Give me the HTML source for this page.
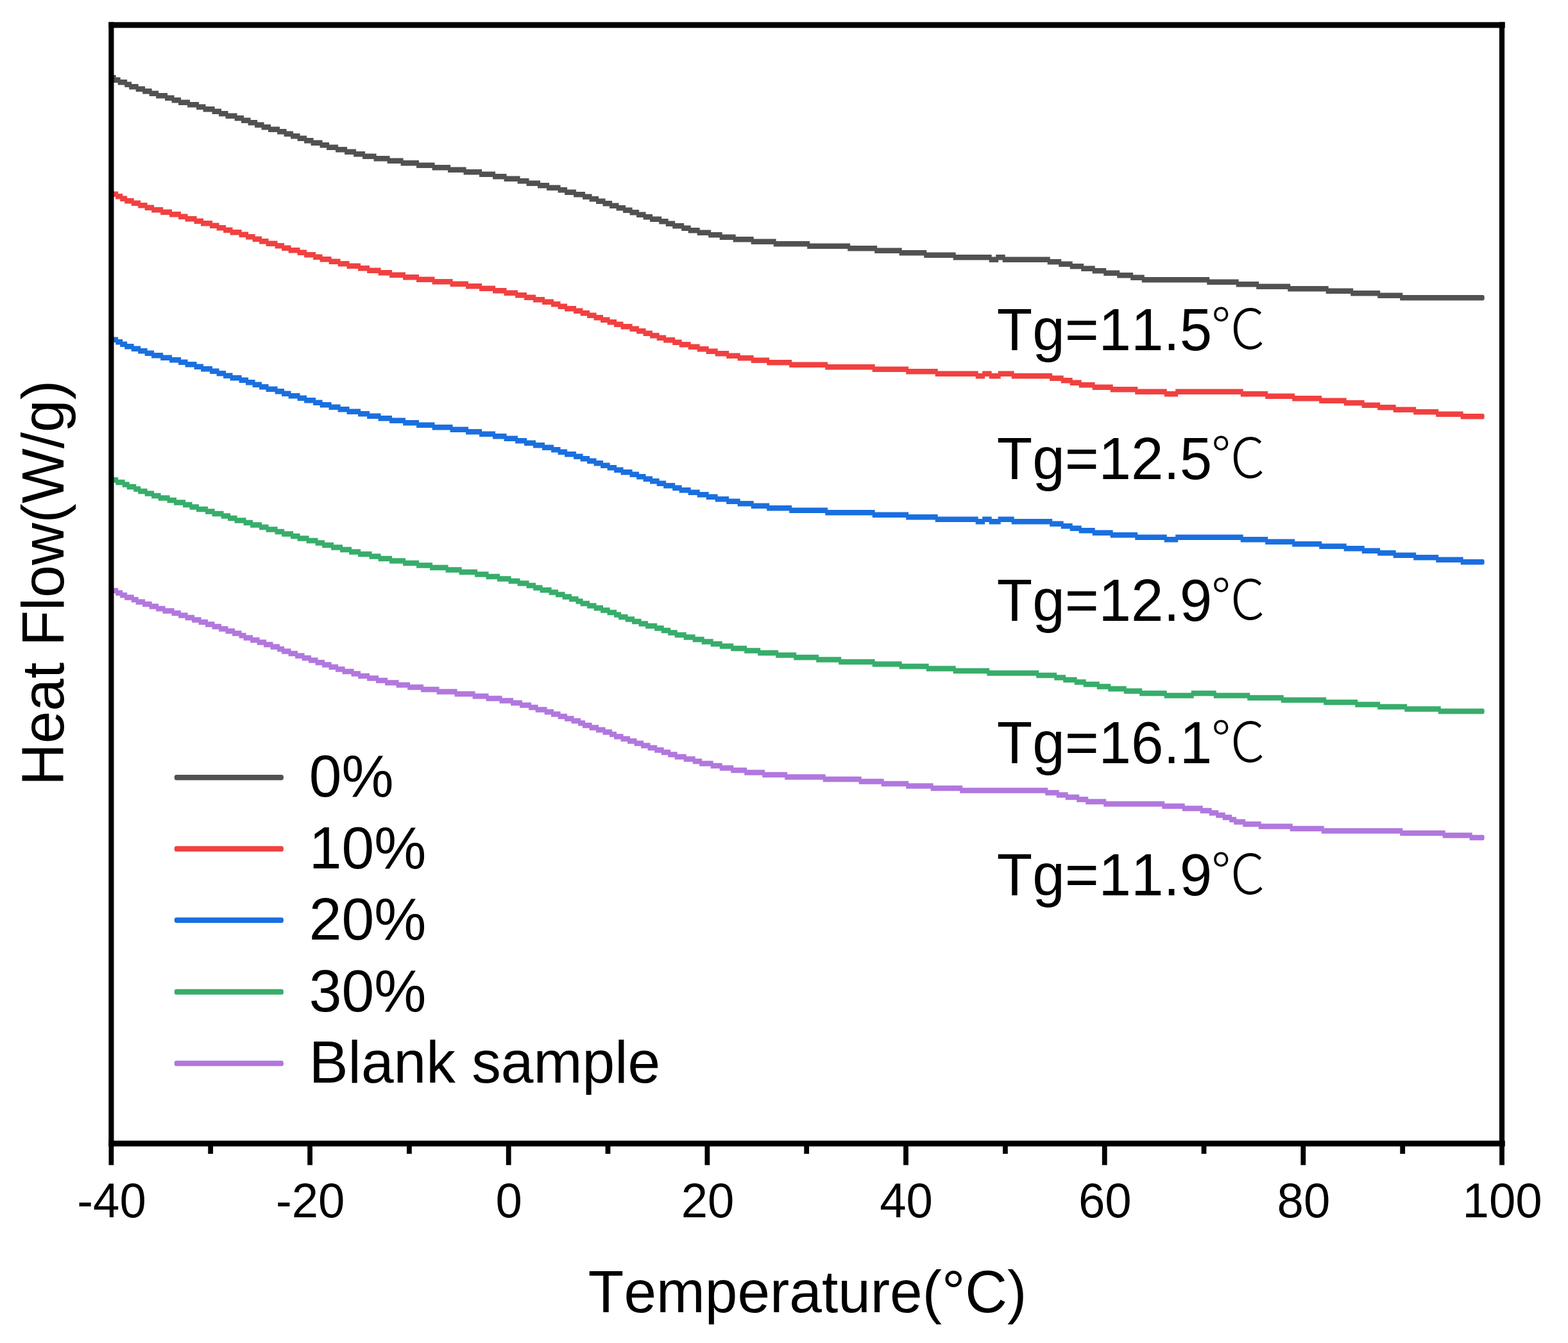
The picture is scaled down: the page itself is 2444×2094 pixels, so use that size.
<!DOCTYPE html>
<html lang="en"><head><meta charset="utf-8"><title>Heat Flow vs Temperature</title>
<style>
html,body{margin:0;padding:0;background:#fff;}
body{width:2444px;height:2094px;overflow:hidden;}
svg{display:block;}
text{font-family:"Liberation Sans",sans-serif;fill:#000;font-kerning:none;}
.deg{font-family:"Noto Sans CJK SC","Noto Serif CJK SC",sans-serif;font-weight:300;}
</style></head><body>
<svg width="2444" height="2094" viewBox="0 0 2444 2094">
<rect x="0" y="0" width="2444" height="2094" fill="#ffffff"/>
<g stroke="none">
<path fill="#515151" d="M173.4 116.9H180.7V125.4H173.4ZM176.7 120.4H187.7V128.9H176.7ZM183.7 123.9H198.2V132.4H183.7ZM194.2 127.4H205.2V135.9H194.2ZM201.2 130.9H215.7V139.4H201.2ZM211.7 134.4H226.2V142.9H211.7ZM222.2 137.9H236.7V146.4H222.2ZM232.7 141.4H247.2V149.9H232.7ZM243.2 144.9H261.1V153.4H243.2ZM257.1 148.4H271.6V156.9H257.1ZM267.6 151.9H282.1V160.4H267.6ZM278.1 155.4H296.1V163.9H278.1ZM292.1 158.9H310.1V167.4H292.1ZM306.1 162.4H320.6V170.9H306.1ZM316.6 165.9H334.6V174.4H316.6ZM330.6 169.4H345.1V177.9H330.6ZM341.1 172.9H355.6V181.4H341.1ZM351.6 176.4H369.6V184.9H351.6ZM365.6 179.9H380.1V188.4H365.6ZM376.1 183.4H390.6V191.9H376.1ZM386.6 186.9H401.1V195.4H386.6ZM397.1 190.4H411.6V198.9H397.1ZM407.6 193.9H422.1V202.4H407.6ZM418.1 197.4H436.1V205.9H418.1ZM432.1 200.9H446.6V209.4H432.1ZM442.6 204.4H457.1V212.9H442.6ZM453.1 207.9H467.6V216.4H453.1ZM463.6 211.4H478.1V219.9H463.6ZM474.1 214.9H488.6V223.4H474.1ZM484.6 218.4H502.6V226.9H484.6ZM498.6 221.9H513.1V230.4H498.6ZM509.1 225.4H527.1V233.9H509.1ZM523.1 228.9H541.1V237.4H523.1ZM537.1 232.4H555.1V240.9H537.1ZM551.1 235.9H569.1V244.4H551.1ZM565.1 239.4H586.6V247.9H565.1ZM582.6 242.9H607.6V251.4H582.6ZM603.6 246.4H628.6V254.9H603.6ZM624.6 249.9H653.1V258.4H624.6ZM649.1 253.4H677.6V261.9H649.1ZM673.6 256.9H702.1V265.4H673.6ZM698.1 260.4H726.6V268.9H698.1ZM722.6 263.9H751.1V272.4H722.6ZM747.1 267.4H772.1V275.9H747.1ZM768.1 270.9H789.6V279.4H768.1ZM785.6 274.4H810.6V282.9H785.6ZM806.6 277.9H824.6V286.4H806.6ZM820.6 281.4H842.1V289.9H820.6ZM838.1 284.9H856.1V293.4H838.1ZM852.1 288.4H873.6V296.9H852.1ZM869.6 291.9H884.1V300.4H869.6ZM880.1 295.4H898.1V303.9H880.1ZM894.1 298.9H912.1V307.4H894.1ZM908.1 302.4H922.6V310.9H908.1ZM918.6 305.9H933.1V314.4H918.6ZM929.1 309.4H943.6V317.9H929.1ZM939.6 312.9H954.1V321.4H939.6ZM950.1 316.4H964.6V324.9H950.1ZM960.6 319.9H975.1V328.4H960.6ZM971.1 323.4H985.6V331.9H971.1ZM981.6 326.9H996.1V335.4H981.6ZM992.1 330.4H1006.6V338.9H992.1ZM1002.6 333.9H1017.1V342.4H1002.6ZM1013.1 337.4H1031.2V345.9H1013.1ZM1027.2 340.9H1041.7V349.4H1027.2ZM1037.7 344.4H1052.2V352.9H1037.7ZM1048.2 347.9H1066.2V356.4H1048.2ZM1062.2 351.4H1076.7V359.9H1062.2ZM1072.7 354.9H1090.7V363.4H1072.7ZM1086.7 358.4H1108.2V366.9H1086.7ZM1104.2 361.9H1125.7V370.4H1104.2ZM1121.7 365.4H1146.7V373.9H1121.7ZM1142.7 368.9H1174.7V377.4H1142.7ZM1170.7 372.4H1209.7V380.9H1170.7ZM1205.7 375.9H1262.2V384.4H1205.7ZM1258.2 379.4H1325.2V387.9H1258.2ZM1321.2 382.9H1367.2V391.4H1321.2ZM1363.2 386.4H1405.7V394.9H1363.2ZM1401.7 389.9H1444.2V398.4H1401.7ZM1440.2 393.4H1489.7V401.9H1440.2ZM1485.7 396.9H1545.7V405.4H1485.7ZM1541.7 400.4H1556.2V408.9H1541.7ZM1552.2 396.9H1566.7V405.4H1552.2ZM1562.7 400.4H1636.7V408.9H1562.7ZM1632.7 403.9H1654.2V412.4H1632.7ZM1650.2 407.4H1671.7V415.9H1650.2ZM1667.7 410.9H1689.2V419.4H1667.7ZM1685.2 414.4H1706.7V422.9H1685.2ZM1702.7 417.9H1724.2V426.4H1702.7ZM1720.2 421.4H1745.2V429.9H1720.2ZM1741.2 424.9H1766.2V433.4H1741.2ZM1762.2 428.4H1783.7V436.9H1762.2ZM1779.7 431.9H1885.2V440.4H1779.7ZM1881.2 435.4H1930.7V443.9H1881.2ZM1926.7 438.9H1962.2V447.4H1926.7ZM1958.2 442.4H2011.2V450.9H1958.2ZM2007.2 445.9H2070.7V454.4H2007.2ZM2066.7 449.4H2109.2V457.9H2066.7ZM2105.2 452.9H2151.2V461.4H2105.2ZM2147.2 456.4H2186.2V464.9H2147.2ZM2182.2 459.9H2310.0V468.4H2182.2ZM2310.0 459.9h1.2a2.6 4.25 0 0 1 0 8.5h-1.2Z"/>
<path fill="#f14040" d="M173.4 295.0H177.2V303.5H173.4ZM173.2 298.5H184.2V307.0H173.2ZM180.2 302.0H191.2V310.5H180.2ZM187.2 305.5H198.2V314.0H187.2ZM194.2 309.0H208.7V317.5H194.2ZM204.7 312.5H219.2V321.0H204.7ZM215.2 316.0H229.7V324.5H215.2ZM225.7 319.5H240.2V328.0H225.7ZM236.2 323.0H254.2V331.5H236.2ZM250.2 326.5H268.1V335.0H250.2ZM264.1 330.0H282.1V338.5H264.1ZM278.1 333.5H292.6V342.0H278.1ZM288.6 337.0H306.6V345.5H288.6ZM302.6 340.5H317.1V349.0H302.6ZM313.1 344.0H331.1V352.5H313.1ZM327.1 347.5H341.6V356.0H327.1ZM337.6 351.0H352.1V359.5H337.6ZM348.1 354.5H362.6V363.0H348.1ZM358.6 358.0H376.6V366.5H358.6ZM372.6 361.5H387.1V370.0H372.6ZM383.1 365.0H397.6V373.5H383.1ZM393.6 368.5H408.1V377.0H393.6ZM404.1 372.0H418.6V380.5H404.1ZM414.6 375.5H432.6V384.0H414.6ZM428.6 379.0H443.1V387.5H428.6ZM439.1 382.5H453.6V391.0H439.1ZM449.6 386.0H467.6V394.5H449.6ZM463.6 389.5H478.1V398.0H463.6ZM474.1 393.0H492.1V401.5H474.1ZM488.1 396.5H502.6V405.0H488.1ZM498.6 400.0H516.6V408.5H498.6ZM512.6 403.5H530.6V412.0H512.6ZM526.6 407.0H544.6V415.5H526.6ZM540.6 410.5H562.1V419.0H540.6ZM558.1 414.0H576.1V422.5H558.1ZM572.1 417.5H593.6V426.0H572.1ZM589.6 421.0H611.1V429.5H589.6ZM607.1 424.5H632.1V433.0H607.1ZM628.1 428.0H653.1V436.5H628.1ZM649.1 431.5H677.6V440.0H649.1ZM673.6 435.0H705.6V443.5H673.6ZM701.6 438.5H730.1V447.0H701.6ZM726.1 442.0H751.1V450.5H726.1ZM747.1 445.5H772.1V454.0H747.1ZM768.1 449.0H789.6V457.5H768.1ZM785.6 452.5H807.1V461.0H785.6ZM803.1 456.0H821.1V464.5H803.1ZM817.1 459.5H835.1V468.0H817.1ZM831.1 463.0H849.1V471.5H831.1ZM845.1 466.5H863.1V475.0H845.1ZM859.1 470.0H873.6V478.5H859.1ZM869.6 473.5H884.1V482.0H869.6ZM880.1 477.0H898.1V485.5H880.1ZM894.1 480.5H908.6V489.0H894.1ZM904.6 484.0H919.1V492.5H904.6ZM915.1 487.5H929.6V496.0H915.1ZM925.6 491.0H940.1V499.5H925.6ZM936.1 494.5H950.6V503.0H936.1ZM946.6 498.0H961.1V506.5H946.6ZM957.1 501.5H971.6V510.0H957.1ZM967.6 505.0H985.6V513.5H967.6ZM981.6 508.5H996.1V517.0H981.6ZM992.1 512.0H1006.6V520.5H992.1ZM1002.6 515.5H1017.1V524.0H1002.6ZM1013.1 519.0H1027.7V527.5H1013.1ZM1023.7 522.5H1038.2V531.0H1023.7ZM1034.2 526.0H1052.2V534.5H1034.2ZM1048.2 529.5H1062.7V538.0H1048.2ZM1058.7 533.0H1076.7V541.5H1058.7ZM1072.7 536.5H1090.7V545.0H1072.7ZM1086.7 540.0H1104.7V548.5H1086.7ZM1100.7 543.5H1118.7V552.0H1100.7ZM1114.7 547.0H1136.2V555.5H1114.7ZM1132.2 550.5H1153.7V559.0H1132.2ZM1149.7 554.0H1174.7V562.5H1149.7ZM1170.7 557.5H1199.2V566.0H1170.7ZM1195.2 561.0H1234.2V569.5H1195.2ZM1230.2 564.5H1290.2V573.0H1230.2ZM1286.2 568.0H1363.7V576.5H1286.2ZM1359.7 571.5H1416.2V580.0H1359.7ZM1412.2 575.0H1461.7V583.5H1412.2ZM1457.7 578.5H1524.7V587.0H1457.7ZM1520.7 582.0H1535.2V590.5H1520.7ZM1531.2 578.5H1545.7V587.0H1531.2ZM1541.7 582.0H1559.7V590.5H1541.7ZM1555.7 578.5H1580.7V587.0H1555.7ZM1576.7 582.0H1640.2V590.5H1576.7ZM1636.2 585.5H1657.7V594.0H1636.2ZM1653.7 589.0H1671.7V597.5H1653.7ZM1667.7 592.5H1685.7V601.0H1667.7ZM1681.7 596.0H1706.7V604.5H1681.7ZM1702.7 599.5H1734.7V608.0H1702.7ZM1730.7 603.0H1773.2V611.5H1730.7ZM1769.2 606.5H1818.7V615.0H1769.2ZM1814.7 610.0H1836.2V618.5H1814.7ZM1832.2 606.5H1937.7V615.0H1832.2ZM1933.7 610.0H1976.2V618.5H1933.7ZM1972.2 613.5H2018.2V622.0H1972.2ZM2014.2 617.0H2060.2V625.5H2014.2ZM2056.2 620.5H2098.7V629.0H2056.2ZM2094.7 624.0H2126.7V632.5H2094.7ZM2122.7 627.5H2151.2V636.0H2122.7ZM2147.2 631.0H2175.7V639.5H2147.2ZM2171.7 634.5H2207.2V643.0H2171.7ZM2203.2 638.0H2242.2V646.5H2203.2ZM2238.2 641.5H2280.7V650.0H2238.2ZM2276.7 645.0H2310.0V653.5H2276.7ZM2310.0 645.0h1.2a2.6 4.25 0 0 1 0 8.5h-1.2Z"/>
<path fill="#1a6fdf" d="M173.4 522.1H177.2V530.6H173.4ZM173.2 525.6H184.2V534.1H173.2ZM180.2 529.1H191.2V537.6H180.2ZM187.2 532.6H198.2V541.1H187.2ZM194.2 536.1H208.7V544.6H194.2ZM204.7 539.6H219.2V548.1H204.7ZM215.2 543.1H229.7V551.6H215.2ZM225.7 546.6H240.2V555.1H225.7ZM236.2 550.1H254.2V558.6H236.2ZM250.2 553.6H268.1V562.1H250.2ZM264.1 557.1H282.1V565.6H264.1ZM278.1 560.6H292.6V569.1H278.1ZM288.6 564.1H306.6V572.6H288.6ZM302.6 567.6H317.1V576.1H302.6ZM313.1 571.1H331.1V579.6H313.1ZM327.1 574.6H341.6V583.1H327.1ZM337.6 578.1H352.1V586.6H337.6ZM348.1 581.6H362.6V590.1H348.1ZM358.6 585.1H376.6V593.6H358.6ZM372.6 588.6H387.1V597.1H372.6ZM383.1 592.1H397.6V600.6H383.1ZM393.6 595.6H408.1V604.1H393.6ZM404.1 599.1H418.6V607.6H404.1ZM414.6 602.6H432.6V611.1H414.6ZM428.6 606.1H443.1V614.6H428.6ZM439.1 609.6H453.6V618.1H439.1ZM449.6 613.1H467.6V621.6H449.6ZM463.6 616.6H478.1V625.1H463.6ZM474.1 620.1H492.1V628.6H474.1ZM488.1 623.6H502.6V632.1H488.1ZM498.6 627.1H516.6V635.6H498.6ZM512.6 630.6H530.6V639.1H512.6ZM526.6 634.1H544.6V642.6H526.6ZM540.6 637.6H562.1V646.1H540.6ZM558.1 641.1H576.1V649.6H558.1ZM572.1 644.6H593.6V653.1H572.1ZM589.6 648.1H611.1V656.6H589.6ZM607.1 651.6H632.1V660.1H607.1ZM628.1 655.1H653.1V663.6H628.1ZM649.1 658.6H677.6V667.1H649.1ZM673.6 662.1H705.6V670.6H673.6ZM701.6 665.6H730.1V674.1H701.6ZM726.1 669.1H751.1V677.6H726.1ZM747.1 672.6H772.1V681.1H747.1ZM768.1 676.1H789.6V684.6H768.1ZM785.6 679.6H807.1V688.1H785.6ZM803.1 683.1H821.1V691.6H803.1ZM817.1 686.6H835.1V695.1H817.1ZM831.1 690.1H849.1V698.6H831.1ZM845.1 693.6H863.1V702.1H845.1ZM859.1 697.1H873.6V705.6H859.1ZM869.6 700.6H884.1V709.1H869.6ZM880.1 704.1H898.1V712.6H880.1ZM894.1 707.6H908.6V716.1H894.1ZM904.6 711.1H919.1V719.6H904.6ZM915.1 714.6H929.6V723.1H915.1ZM925.6 718.1H940.1V726.6H925.6ZM936.1 721.6H950.6V730.1H936.1ZM946.6 725.1H961.1V733.6H946.6ZM957.1 728.6H971.6V737.1H957.1ZM967.6 732.1H985.6V740.6H967.6ZM981.6 735.6H996.1V744.1H981.6ZM992.1 739.1H1006.6V747.6H992.1ZM1002.6 742.6H1017.1V751.1H1002.6ZM1013.1 746.1H1027.7V754.6H1013.1ZM1023.7 749.6H1038.2V758.1H1023.7ZM1034.2 753.1H1052.2V761.6H1034.2ZM1048.2 756.6H1062.7V765.1H1048.2ZM1058.7 760.1H1076.7V768.6H1058.7ZM1072.7 763.6H1090.7V772.1H1072.7ZM1086.7 767.1H1104.7V775.6H1086.7ZM1100.7 770.6H1118.7V779.1H1100.7ZM1114.7 774.1H1136.2V782.6H1114.7ZM1132.2 777.6H1153.7V786.1H1132.2ZM1149.7 781.1H1174.7V789.6H1149.7ZM1170.7 784.6H1199.2V793.1H1170.7ZM1195.2 788.1H1234.2V796.6H1195.2ZM1230.2 791.6H1290.2V800.1H1230.2ZM1286.2 795.1H1363.7V803.6H1286.2ZM1359.7 798.6H1416.2V807.1H1359.7ZM1412.2 802.1H1461.7V810.6H1412.2ZM1457.7 805.6H1524.7V814.1H1457.7ZM1520.7 809.1H1535.2V817.6H1520.7ZM1531.2 805.6H1545.7V814.1H1531.2ZM1541.7 809.1H1559.7V817.6H1541.7ZM1555.7 805.6H1580.7V814.1H1555.7ZM1576.7 809.1H1640.2V817.6H1576.7ZM1636.2 812.6H1657.7V821.1H1636.2ZM1653.7 816.1H1671.7V824.6H1653.7ZM1667.7 819.6H1685.7V828.1H1667.7ZM1681.7 823.1H1706.7V831.6H1681.7ZM1702.7 826.6H1734.7V835.1H1702.7ZM1730.7 830.1H1773.2V838.6H1730.7ZM1769.2 833.6H1818.7V842.1H1769.2ZM1814.7 837.1H1836.2V845.6H1814.7ZM1832.2 833.6H1937.7V842.1H1832.2ZM1933.7 837.1H1976.2V845.6H1933.7ZM1972.2 840.6H2018.2V849.1H1972.2ZM2014.2 844.1H2060.2V852.6H2014.2ZM2056.2 847.6H2098.7V856.1H2056.2ZM2094.7 851.1H2126.7V859.6H2094.7ZM2122.7 854.6H2151.2V863.1H2122.7ZM2147.2 858.1H2175.7V866.6H2147.2ZM2171.7 861.6H2207.2V870.1H2171.7ZM2203.2 865.1H2242.2V873.6H2203.2ZM2238.2 868.6H2280.7V877.1H2238.2ZM2276.7 872.1H2310.0V880.6H2276.7ZM2310.0 872.1h1.2a2.6 4.25 0 0 1 0 8.5h-1.2Z"/>
<path fill="#37ad6b" d="M173.4 740.8H177.2V749.3H173.4ZM173.2 744.3H184.2V752.8H173.2ZM180.2 747.8H194.7V756.3H180.2ZM190.7 751.3H201.7V759.8H190.7ZM197.7 754.8H212.2V763.3H197.7ZM208.2 758.3H219.2V766.8H208.2ZM215.2 761.8H229.7V770.3H215.2ZM225.7 765.3H240.2V773.8H225.7ZM236.2 768.8H250.7V777.3H236.2ZM246.7 772.3H264.6V780.8H246.7ZM260.6 775.8H275.1V784.3H260.6ZM271.1 779.3H289.1V787.8H271.1ZM285.1 782.8H299.6V791.3H285.1ZM295.6 786.3H310.1V794.8H295.6ZM306.1 789.8H324.1V798.3H306.1ZM320.1 793.3H334.6V801.8H320.1ZM330.6 796.8H348.6V805.3H330.6ZM344.6 800.3H359.1V808.8H344.6ZM355.1 803.8H369.6V812.3H355.1ZM365.6 807.3H383.6V815.8H365.6ZM379.6 810.8H394.1V819.3H379.6ZM390.1 814.3H408.1V822.8H390.1ZM404.1 817.8H418.6V826.3H404.1ZM414.6 821.3H432.6V829.8H414.6ZM428.6 824.8H443.1V833.3H428.6ZM439.1 828.3H457.1V836.8H439.1ZM453.1 831.8H467.6V840.3H453.1ZM463.6 835.3H481.6V843.8H463.6ZM477.6 838.8H495.6V847.3H477.6ZM491.6 842.3H506.1V850.8H491.6ZM502.1 845.8H520.1V854.3H502.1ZM516.1 849.3H534.1V857.8H516.1ZM530.1 852.8H548.1V861.3H530.1ZM544.1 856.3H562.1V864.8H544.1ZM558.1 859.8H579.6V868.3H558.1ZM575.6 863.3H593.6V871.8H575.6ZM589.6 866.8H611.1V875.3H589.6ZM607.1 870.3H632.1V878.8H607.1ZM628.1 873.8H653.1V882.3H628.1ZM649.1 877.3H674.1V885.8H649.1ZM670.1 880.8H698.6V889.3H670.1ZM694.6 884.3H719.6V892.8H694.6ZM715.6 887.8H744.1V896.3H715.6ZM740.1 891.3H761.6V899.8H740.1ZM757.6 894.8H779.1V903.3H757.6ZM775.1 898.3H796.6V906.8H775.1ZM792.6 901.8H810.6V910.3H792.6ZM806.6 905.3H824.6V913.8H806.6ZM820.6 908.8H835.1V917.3H820.6ZM831.1 912.3H845.6V920.8H831.1ZM841.6 915.8H859.6V924.3H841.6ZM855.6 919.3H870.1V927.8H855.6ZM866.1 922.8H880.6V931.3H866.1ZM876.6 926.3H891.1V934.8H876.6ZM887.1 929.8H901.6V938.3H887.1ZM897.6 933.3H908.6V941.8H897.6ZM904.6 936.8H919.1V945.3H904.6ZM915.1 940.3H929.6V948.8H915.1ZM925.6 943.8H940.1V952.3H925.6ZM936.1 947.3H950.6V955.8H936.1ZM946.6 950.8H961.1V959.3H946.6ZM957.1 954.3H968.1V962.8H957.1ZM964.1 957.8H978.6V966.3H964.1ZM974.6 961.3H989.1V969.8H974.6ZM985.1 964.8H999.6V973.3H985.1ZM995.6 968.3H1010.1V976.8H995.6ZM1006.1 971.8H1024.2V980.3H1006.1ZM1020.1 975.3H1034.7V983.8H1020.1ZM1030.7 978.8H1045.2V987.3H1030.7ZM1041.2 982.3H1055.7V990.8H1041.2ZM1051.7 985.8H1069.7V994.3H1051.7ZM1065.7 989.3H1083.7V997.8H1065.7ZM1079.7 992.8H1097.7V1001.3H1079.7ZM1093.7 996.3H1111.7V1004.8H1093.7ZM1107.7 999.8H1125.7V1008.3H1107.7ZM1121.7 1003.3H1143.2V1011.8H1121.7ZM1139.2 1006.8H1164.2V1015.3H1139.2ZM1160.2 1010.3H1185.2V1018.8H1160.2ZM1181.2 1013.8H1213.2V1022.3H1181.2ZM1209.2 1017.3H1241.2V1025.8H1209.2ZM1237.2 1020.8H1276.2V1029.3H1237.2ZM1272.2 1024.3H1311.2V1032.8H1272.2ZM1307.2 1027.8H1363.7V1036.3H1307.2ZM1359.7 1031.3H1405.7V1039.8H1359.7ZM1401.7 1034.8H1447.7V1043.3H1401.7ZM1443.7 1038.3H1489.7V1046.8H1443.7ZM1485.7 1041.8H1542.2V1050.3H1485.7ZM1538.2 1045.3H1619.2V1053.8H1538.2ZM1615.2 1048.8H1647.2V1057.3H1615.2ZM1643.2 1052.3H1661.2V1060.8H1643.2ZM1657.2 1055.8H1678.7V1064.3H1657.2ZM1674.7 1059.3H1692.7V1067.8H1674.7ZM1688.7 1062.8H1713.7V1071.3H1688.7ZM1709.7 1066.3H1731.2V1074.8H1709.7ZM1727.2 1069.8H1755.7V1078.3H1727.2ZM1751.7 1073.3H1780.2V1081.8H1751.7ZM1776.2 1076.8H1818.7V1085.3H1776.2ZM1814.7 1080.3H1860.7V1088.8H1814.7ZM1856.7 1076.8H1895.7V1085.3H1856.7ZM1891.7 1080.3H1948.2V1088.8H1891.7ZM1944.2 1083.8H2000.7V1092.3H1944.2ZM1996.7 1087.3H2067.2V1095.8H1996.7ZM2063.2 1090.8H2116.2V1099.3H2063.2ZM2112.2 1094.3H2151.2V1102.8H2112.2ZM2147.2 1097.8H2193.2V1106.3H2147.2ZM2189.2 1101.3H2245.7V1109.8H2189.2ZM2241.7 1104.8H2310.0V1113.3H2241.7ZM2310.0 1104.8h1.2a2.6 4.25 0 0 1 0 8.5h-1.2Z"/>
<path fill="#b177de" d="M173.4 913.2H177.2V921.8H173.4ZM173.2 916.8H184.2V925.2H173.2ZM180.2 920.2H191.2V928.8H180.2ZM187.2 923.8H198.2V932.2H187.2ZM194.2 927.2H208.7V935.8H194.2ZM204.7 930.8H215.7V939.2H204.7ZM211.7 934.2H226.2V942.8H211.7ZM222.2 937.8H236.7V946.2H222.2ZM232.7 941.2H247.2V949.8H232.7ZM243.2 944.8H257.6V953.2H243.2ZM253.6 948.2H271.6V956.8H253.6ZM267.6 951.8H282.1V960.2H267.6ZM278.1 955.2H292.6V963.8H278.1ZM288.6 958.8H303.1V967.2H288.6ZM299.1 962.2H313.6V970.8H299.1ZM309.6 965.8H324.1V974.2H309.6ZM320.1 969.2H334.6V977.8H320.1ZM330.6 972.8H345.1V981.2H330.6ZM341.1 976.2H355.6V984.8H341.1ZM351.6 979.8H366.1V988.2H351.6ZM362.1 983.2H376.6V991.8H362.1ZM372.6 986.8H383.6V995.2H372.6ZM379.6 990.2H394.1V998.8H379.6ZM390.1 993.8H404.6V1002.2H390.1ZM400.6 997.2H415.1V1005.8H400.6ZM411.1 1000.8H425.6V1009.2H411.1ZM421.6 1004.2H436.1V1012.8H421.6ZM432.1 1007.8H443.1V1016.2H432.1ZM439.1 1011.2H453.6V1019.8H439.1ZM449.6 1014.8H464.1V1023.2H449.6ZM460.1 1018.2H474.6V1026.8H460.1ZM470.6 1021.8H485.1V1030.2H470.6ZM481.1 1025.2H495.6V1033.8H481.1ZM491.6 1028.8H506.1V1037.2H491.6ZM502.1 1032.2H516.6V1040.8H502.1ZM512.6 1035.8H527.1V1044.2H512.6ZM523.1 1039.2H537.6V1047.8H523.1ZM533.6 1042.8H551.6V1051.2H533.6ZM547.6 1046.2H562.1V1054.8H547.6ZM558.1 1049.8H576.1V1058.2H558.1ZM572.1 1053.2H590.1V1061.8H572.1ZM586.1 1056.8H604.1V1065.2H586.1ZM600.1 1060.2H621.6V1068.8H600.1ZM617.6 1063.8H639.1V1072.2H617.6ZM635.1 1067.2H660.1V1075.8H635.1ZM656.1 1070.8H684.6V1079.2H656.1ZM680.6 1074.2H712.6V1082.8H680.6ZM708.6 1077.8H740.6V1086.2H708.6ZM736.6 1081.2H761.6V1089.8H736.6ZM757.6 1084.8H782.6V1093.2H757.6ZM778.6 1088.2H800.1V1096.8H778.6ZM796.1 1091.8H814.1V1100.2H796.1ZM810.1 1095.2H828.1V1103.8H810.1ZM824.1 1098.8H838.6V1107.2H824.1ZM834.6 1102.2H852.6V1110.8H834.6ZM848.6 1105.8H863.1V1114.2H848.6ZM859.1 1109.2H873.6V1117.8H859.1ZM869.6 1112.8H884.1V1121.2H869.6ZM880.1 1116.2H894.6V1124.8H880.1ZM890.6 1119.8H905.1V1128.2H890.6ZM901.1 1123.2H912.1V1131.8H901.1ZM908.1 1126.8H922.6V1135.2H908.1ZM918.6 1130.2H933.1V1138.8H918.6ZM929.1 1133.8H943.6V1142.2H929.1ZM939.6 1137.2H954.1V1145.8H939.6ZM950.1 1140.8H961.1V1149.2H950.1ZM957.1 1144.2H971.6V1152.8H957.1ZM967.6 1147.8H982.1V1156.2H967.6ZM978.1 1151.2H992.6V1159.8H978.1ZM988.6 1154.8H1003.1V1163.2H988.6ZM999.1 1158.2H1013.6V1166.8H999.1ZM1009.6 1161.8H1024.2V1170.2H1009.6ZM1020.1 1165.2H1034.7V1173.8H1020.1ZM1030.7 1168.8H1045.2V1177.2H1030.7ZM1041.2 1172.2H1055.7V1180.8H1041.2ZM1051.7 1175.8H1069.7V1184.2H1051.7ZM1065.7 1179.2H1083.7V1187.8H1065.7ZM1079.7 1182.8H1094.2V1191.2H1079.7ZM1090.2 1186.2H1111.7V1194.8H1090.2ZM1107.7 1189.8H1125.7V1198.2H1107.7ZM1121.7 1193.2H1143.2V1201.8H1121.7ZM1139.2 1196.8H1164.2V1205.2H1139.2ZM1160.2 1200.2H1192.2V1208.8H1160.2ZM1188.2 1203.8H1227.2V1212.2H1188.2ZM1223.2 1207.2H1286.7V1215.8H1223.2ZM1282.7 1210.8H1342.7V1219.2H1282.7ZM1338.7 1214.2H1377.7V1222.8H1338.7ZM1373.7 1217.8H1416.2V1226.2H1373.7ZM1412.2 1221.2H1454.7V1229.8H1412.2ZM1450.7 1224.8H1500.2V1233.2H1450.7ZM1496.2 1228.2H1633.2V1236.8H1496.2ZM1629.2 1231.8H1650.7V1240.2H1629.2ZM1646.7 1235.2H1664.7V1243.8H1646.7ZM1660.7 1238.8H1682.2V1247.2H1660.7ZM1678.2 1242.2H1696.2V1250.8H1678.2ZM1692.2 1245.8H1724.2V1254.2H1692.2ZM1720.2 1249.2H1815.2V1257.8H1720.2ZM1811.2 1252.8H1846.7V1261.2H1811.2ZM1842.7 1256.2H1874.7V1264.8H1842.7ZM1870.7 1259.8H1888.7V1268.2H1870.7ZM1884.7 1263.2H1899.2V1271.8H1884.7ZM1895.2 1266.8H1909.7V1275.2H1895.2ZM1905.7 1270.2H1920.2V1278.8H1905.7ZM1916.2 1273.8H1927.2V1282.2H1916.2ZM1923.2 1277.2H1941.2V1285.8H1923.2ZM1937.2 1280.8H1965.7V1289.2H1937.2ZM1961.7 1284.2H2014.7V1292.8H1961.7ZM2010.7 1287.8H2063.7V1296.2H2010.7ZM2059.7 1291.2H2186.2V1299.8H2059.7ZM2182.2 1294.8H2252.7V1303.2H2182.2ZM2248.7 1298.2H2294.7V1306.8H2248.7ZM2290.7 1301.8H2310.0V1310.2H2290.7ZM2310.0 1301.8h1.2a2.6 4.25 0 0 1 0 8.5h-1.2Z"/>
</g>
<g stroke="#000" fill="none" stroke-linecap="butt">
<line x1="169.5" y1="39.0" x2="2345.8" y2="39.0" stroke-width="9"/>
<line x1="169.5" y1="1783.0" x2="2345.8" y2="1783.0" stroke-width="9"/>
<line x1="173.4" y1="34.5" x2="173.4" y2="1787.5" stroke-width="8.2"/>
<line x1="2341.0" y1="34.5" x2="2341.0" y2="1787.5" stroke-width="8.2"/>
<line x1="173.4" y1="1783.0" x2="173.4" y2="1816.6" stroke-width="7.8"/>
<line x1="328.2" y1="1783.0" x2="328.2" y2="1799.0" stroke-width="7.8"/>
<line x1="483.1" y1="1783.0" x2="483.1" y2="1816.6" stroke-width="7.8"/>
<line x1="637.9" y1="1783.0" x2="637.9" y2="1799.0" stroke-width="7.8"/>
<line x1="792.7" y1="1783.0" x2="792.7" y2="1816.6" stroke-width="7.8"/>
<line x1="947.5" y1="1783.0" x2="947.5" y2="1799.0" stroke-width="7.8"/>
<line x1="1102.4" y1="1783.0" x2="1102.4" y2="1816.6" stroke-width="7.8"/>
<line x1="1257.2" y1="1783.0" x2="1257.2" y2="1799.0" stroke-width="7.8"/>
<line x1="1412.0" y1="1783.0" x2="1412.0" y2="1816.6" stroke-width="7.8"/>
<line x1="1566.9" y1="1783.0" x2="1566.9" y2="1799.0" stroke-width="7.8"/>
<line x1="1721.7" y1="1783.0" x2="1721.7" y2="1816.6" stroke-width="7.8"/>
<line x1="1876.5" y1="1783.0" x2="1876.5" y2="1799.0" stroke-width="7.8"/>
<line x1="2031.3" y1="1783.0" x2="2031.3" y2="1816.6" stroke-width="7.8"/>
<line x1="2186.2" y1="1783.0" x2="2186.2" y2="1799.0" stroke-width="7.8"/>
<line x1="2341.0" y1="1783.0" x2="2341.0" y2="1816.6" stroke-width="7.8"/>
</g>
<text transform="translate(174.0 1897.6) scale(1 1.02)" font-size="74.4" text-anchor="middle">-40</text>
<text transform="translate(483.7 1897.6) scale(1 1.02)" font-size="74.4" text-anchor="middle">-20</text>
<text transform="translate(793.3 1897.6) scale(1 1.02)" font-size="74.4" text-anchor="middle">0</text>
<text transform="translate(1103.0 1897.6) scale(1 1.02)" font-size="74.4" text-anchor="middle">20</text>
<text transform="translate(1412.6 1897.6) scale(1 1.02)" font-size="74.4" text-anchor="middle">40</text>
<text transform="translate(1722.3 1897.6) scale(1 1.02)" font-size="74.4" text-anchor="middle">60</text>
<text transform="translate(2031.9 1897.6) scale(1 1.02)" font-size="74.4" text-anchor="middle">80</text>
<text transform="translate(2341.6 1897.6) scale(1 1.02)" font-size="74.4" text-anchor="middle">100</text>
<text transform="translate(1258.6 2045.6) scale(1 1.012)" font-size="91" text-anchor="middle">Temperature(°C)</text>
<text transform="translate(99.4 909.0) rotate(-90) scale(1 1.015)" font-size="91" text-anchor="middle">Heat Flow(W/g)</text>
<g stroke="none">
<rect x="271.7" y="1207.95" width="170.3" height="8.5" rx="3.4" ry="4.2" fill="#515151"/>
<rect x="271.7" y="1319.35" width="170.3" height="8.5" rx="3.4" ry="4.2" fill="#f14040"/>
<rect x="271.7" y="1430.45" width="170.3" height="8.5" rx="3.4" ry="4.2" fill="#1a6fdf"/>
<rect x="271.7" y="1542.35" width="170.3" height="8.5" rx="3.4" ry="4.2" fill="#37ad6b"/>
<rect x="271.7" y="1653.85" width="170.3" height="8.5" rx="3.4" ry="4.2" fill="#b177de"/>
</g>
<text transform="translate(481.8 1242.2) scale(1 1.01)" font-size="91.2">0%</text>
<text transform="translate(481.8 1353.6) scale(1 1.01)" font-size="91.2">10%</text>
<text transform="translate(481.8 1464.7) scale(1 1.01)" font-size="91.2">20%</text>
<text transform="translate(481.8 1576.6) scale(1 1.01)" font-size="91.2">30%</text>
<text transform="translate(481.8 1688.1) scale(1 1.01)" font-size="91.2">Blank sample</text>
<text transform="translate(1553.8 545.5) scale(1 1.02)" font-size="90.7">Tg=11.5<tspan class="deg" font-size="85" dx="-1.9" dy="-1.7">℃</tspan></text>
<text transform="translate(1553.8 747.0) scale(1 1.02)" font-size="90.7">Tg=12.5<tspan class="deg" font-size="85" dx="-1.9" dy="-1.7">℃</tspan></text>
<text transform="translate(1553.8 968.2) scale(1 1.02)" font-size="90.7">Tg=12.9<tspan class="deg" font-size="85" dx="-1.9" dy="-1.7">℃</tspan></text>
<text transform="translate(1553.8 1189.7) scale(1 1.02)" font-size="90.7">Tg=16.1<tspan class="deg" font-size="85" dx="-1.9" dy="-1.7">℃</tspan></text>
<text transform="translate(1553.8 1395.9) scale(1 1.02)" font-size="90.7">Tg=11.9<tspan class="deg" font-size="85" dx="-1.9" dy="-1.7">℃</tspan></text>
</svg></body></html>
